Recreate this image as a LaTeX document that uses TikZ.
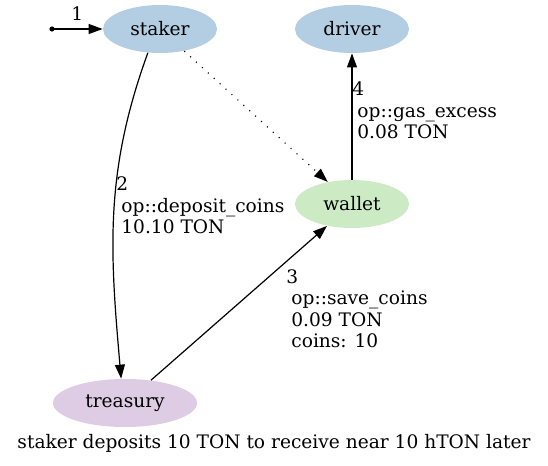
\documentclass[tikz,border=0pt]{standalone}
\usepackage{fontspec}
\setmainfont{DejaVu Serif}
\usetikzlibrary{arrows.meta,shapes.geometric}
\definecolor{pastelblue}{HTML}{B3CDE3}
\definecolor{pastelgreen}{HTML}{CCEBC5}
\definecolor{pastelpurple}{HTML}{DECBE4}

\begin{document}
\begin{tikzpicture}[x=0.5pt,y=-0.5pt,
    actor/.style={ellipse, inner sep=0pt, minimum width=57pt, minimum height=24pt, font=\fontsize{9.3}{10.8}\selectfont},
    msg/.style={line width=0.6pt, -{Triangle[length=7pt,width=5pt]}},
    lbl/.style={inner sep=0pt, anchor=base west, align=left, font=\fontsize{9.3}{10.8}\selectfont}]
      \useasboundingbox (0,0) rectangle (548,466);
      % contracts
      \node[actor, fill=pastelblue] (staker) at (160,29) {staker};
      \node[actor, fill=pastelblue] (driver) at (352,29) {driver};
      \node[actor, fill=pastelgreen] (wallet) at (352,204) {wallet};
      \node[actor, fill=pastelpurple, minimum width=72pt] (treasury) at (125,403) {treasury};
      % entry point
      \coordinate (start) at (52,29);
      \fill (start) circle (1.3pt);
      \draw[msg] (start) -- (staker) node[lbl, anchor=base, pos=0.5, yshift=4.5pt] {1};
      % messages
      \draw[msg] (staker.-117) to[out=-110, in=95] (treasury.99);
      \draw[msg, dash pattern=on 0.5pt off 3.5pt] (staker) -- (wallet);
      \draw[msg] (treasury) -- (wallet);
      \draw[msg] (wallet) -- (driver);
      % labels (base = last line)
      \node[lbl] (lbltwo) at (116,234) {2\\\hspace*{2.5pt}op::deposit\_coins\\\hspace*{2.5pt}10.10 TON};
      \node[lbl] (lblthree) at (286,348) {3\\\hspace*{2.5pt}op::save\_coins\\\hspace*{2.5pt}0.09 TON\\\hspace*{2.5pt}coins: 10};
      \node[lbl] (lblfour) at (352,139) {4\\\hspace*{2.5pt}op::gas\_excess\\\hspace*{2.5pt}0.08 TON};
      \node[lbl, anchor=base] (caption) at (274,449) {staker deposits 10 TON to receive near 10 hTON later};
\end{tikzpicture}
\end{document}
